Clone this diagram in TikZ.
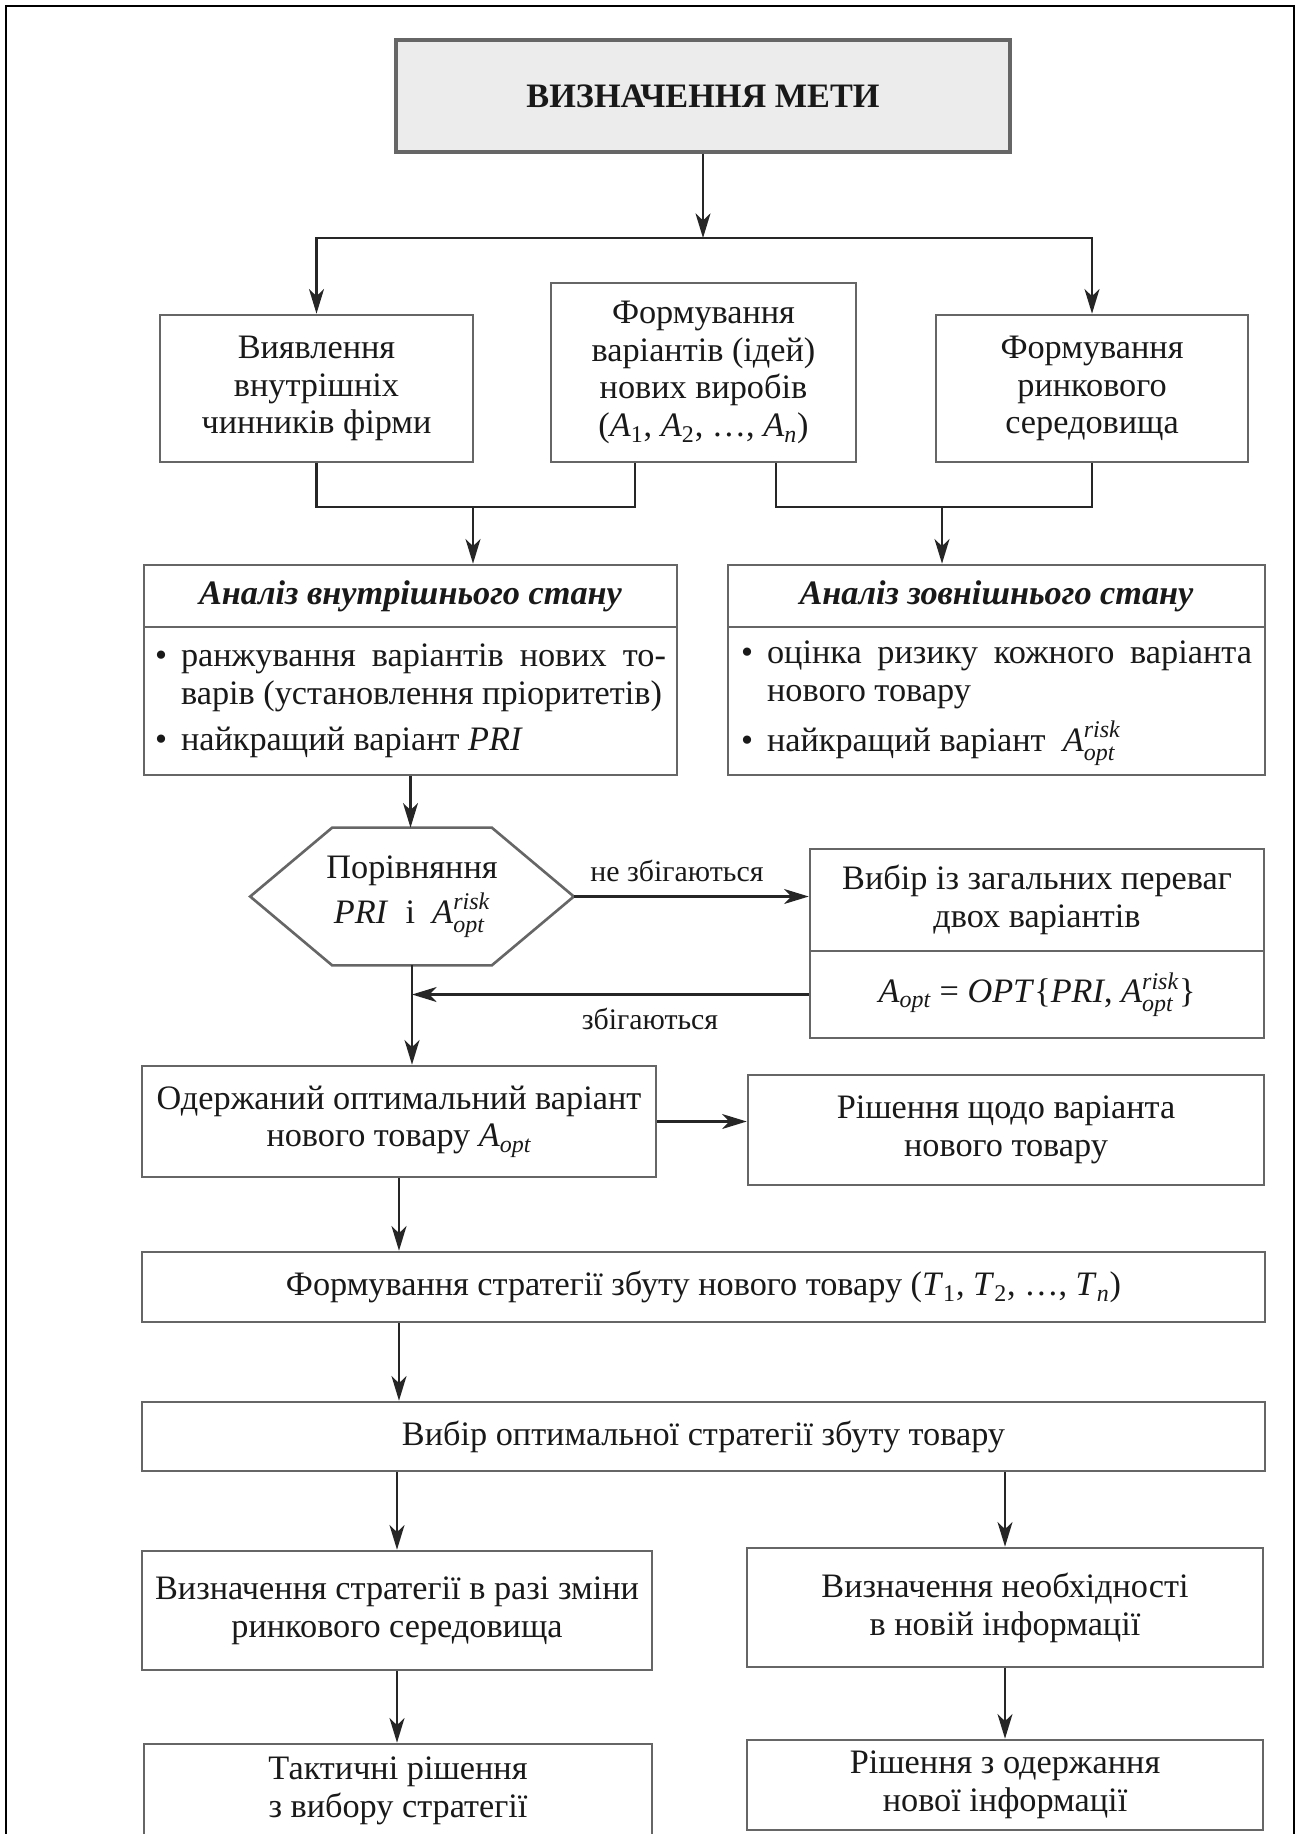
\documentclass[tikz,border=0pt]{standalone}
\usepackage{amsmath}
\usepackage{fontspec}
\setmainfont{Liberation Serif}
\usetikzlibrary{arrows.meta}
\newcommand{\bodyfont}{\fontsize{19.5}{21.5}\selectfont}
\newcommand{\Arisk}{\textit{A}$^{\textit{risk}}_{\textit{opt}}$}
\newcommand{\Aopt}{\textit{A}$_{\textit{opt}}$}

\begin{document}
\begin{tikzpicture}[x=0.02cm,y=-0.02cm,
    box/.style={draw=black!60,line width=1.5pt,fill=white,text=black!90,
      align=center,inner sep=0pt,font=\bodyfont},
    ln/.style={draw=black!85,line width=1.3pt},
    arr/.style={ln,-{Stealth[length=14pt,width=8.5pt,inset=4pt]}},
    lbl/.style={font=\fontsize{17}{19}\selectfont,text=black!90}]
  \useasboundingbox (0,0) rectangle (1298,1834);
  \clip (0,0) rectangle (1298,1834);
  \draw[line width=1.2pt] (6,1850) -- (6,6) -- (1294,6) -- (1294,1850);

  \node[box,fill=gray!15,line width=2pt,minimum width=12.28cm,minimum height=2.24cm,
    font=\bodyfont\bfseries] (goal) at (703,96) {ВИЗНАЧЕННЯ МЕТИ};
  \node[box,minimum width=6.26cm,minimum height=2.94cm] (inner) at (316.5,388.5)
    {Виявлення\\внутрішніх\\чинників фірми};
  \node[box,minimum width=6.1cm,minimum height=3.58cm] (ideas) at (703.5,372.5)
    {Формування\\варіантів (ідей)\\нових виробів\\(\textit{A}\textsubscript{1}, \textit{A}\textsubscript{2}, \dots, \textit{A}\textsubscript{\textit{n}})};
  \node[box,minimum width=6.24cm,minimum height=2.94cm] (market) at (1092,388.5)
    {Формування\\ринкового\\середовища};

  \node[box,minimum width=10.66cm,minimum height=1.24cm,font=\bodyfont\bfseries\itshape]
    (aihead) at (410.5,596) {Аналіз внутрішнього стану};
  \node[box,minimum width=10.66cm,minimum height=2.96cm,align=left] (aibody) at (410.5,701)
    {\begin{tabular}{@{}l@{\hspace{8pt}}l@{}}
      \textbullet & \makebox[9.7cm][s]{ранжування варіантів нових то-}\\
                  & варів (установлення пріоритетів)\\[5pt]
      \textbullet & найкращий варіант \textit{PRI}
     \end{tabular}};
  \node[box,minimum width=10.74cm,minimum height=1.24cm,font=\bodyfont\bfseries\itshape]
    (aehead) at (996.5,596) {Аналіз зовнішнього стану};
  \node[box,minimum width=10.74cm,minimum height=2.96cm,align=left] (aebody) at (996.5,701)
    {\begin{tabular}{@{}l@{\hspace{8pt}}l@{}}
      \textbullet & \makebox[9.7cm][s]{оцінка ризику кожного варіанта}\\
                  & нового товару\\[5pt]
      \textbullet & найкращий варіант \ \Arisk
     \end{tabular}};

  \node[minimum width=6.46cm,minimum height=2.74cm,align=center,inner sep=0pt,
    font=\bodyfont,text=black!90] (cmp) at (412,896.5)
    {Порівняння\\[4pt]\textit{PRI}\enspace і\enspace\Arisk};
  \draw[draw=black!60,line width=1.5pt] ([xshift=1.64cm]cmp.north west)
    -- ([xshift=-1.64cm]cmp.north east) -- (cmp.east)
    -- ([xshift=-1.64cm]cmp.south east) -- ([xshift=1.64cm]cmp.south west)
    -- (cmp.west) -- cycle;

  \node[box,minimum width=9.08cm,minimum height=2.04cm] (choice) at (1037,900)
    {Вибір із загальних переваг\\двох варіантів};
  \node[box,minimum width=9.08cm,minimum height=1.74cm] (optf) at (1037,994.5)
    {\Aopt{} = \textit{OPT}\{\textit{PRI}, \Arisk\}};
  \node[lbl] (nomatch) at (677,871) {не збігаються};
  \node[lbl] (match) at (650,1019) {збігаються};

  \node[box,minimum width=10.28cm,minimum height=2.22cm] (result) at (399,1121.5)
    {Одержаний оптимальний варіант\\нового товару \Aopt};
  \node[box,minimum width=10.32cm,minimum height=2.2cm] (decision) at (1006,1130)
    {Рішення щодо варіанта\\нового товару};
  \node[box,minimum width=22.46cm,minimum height=1.4cm] (strat) at (703.5,1287)
    {Формування стратегії збуту нового товару (\textit{T}\textsubscript{1}, \textit{T}\textsubscript{2}, \dots, \textit{T}\textsubscript{\textit{n}})};
  \node[box,minimum width=22.46cm,minimum height=1.38cm] (best) at (703.5,1436.5)
    {Вибір оптимальної стратегії збуту товару};
  \node[box,minimum width=10.2cm,minimum height=2.38cm] (change) at (397,1610.5)
    {Визначення стратегії в разі зміни\\ринкового середовища};
  \node[box,minimum width=10.32cm,minimum height=2.38cm] (need) at (1005,1607.5)
    {Визначення необхідності\\в новій інформації};
  \node[box,minimum width=10.16cm,minimum height=1.88cm] (tactic) at (398,1791)
    {Тактичні рішення\\з вибору стратегії};
  \node[box,minimum width=10.32cm,minimum height=1.8cm] (info) at (1005,1785)
    {Рішення з одержання\\нової інформації};

  \begin{scope}
    \coordinate (split) at (703,238);
    \coordinate (jl) at (473,507);
    \coordinate (jr) at (942,507);
    \draw[arr] (goal.south) -- (split);
    \draw[arr] (split) -| (inner.north);
    \draw[arr] (split) -| (market.north);
    \draw[ln] (inner.south) |- (jl) -| ([xshift=-1.37cm]ideas.south);
    \draw[ln] (market.south) |- (jr) -| ([xshift=1.45cm]ideas.south);
    \draw[arr] (jl) -- (jl |- aihead.north);
    \draw[arr] (jr) -- (jr |- aehead.north);
    \draw[arr] (aibody.south) -- (aibody.south |- cmp.north);
    \draw[arr] (cmp.east) -- (cmp.east -| choice.west);
    \coordinate (ret) at (cmp.south |- optf.west);
    \draw[arr] (optf.west) -- (ret);
    \draw[arr] (cmp.south) -- (cmp.south |- result.north);
    \draw[arr] (result.east) -- (result.east -| decision.west);
    \draw[arr] (result.south) -- (result.south |- strat.north);
    \draw[arr] (result.south |- strat.south) -- (result.south |- best.north);
    \draw[arr] (change.north |- best.south) -- (change.north);
    \draw[arr] (need.north |- best.south) -- (need.north);
    \draw[arr] (change.south) -- (change.south |- tactic.north);
    \draw[arr] (need.south) -- (info.north);
  \end{scope}
\end{tikzpicture}
\end{document}
